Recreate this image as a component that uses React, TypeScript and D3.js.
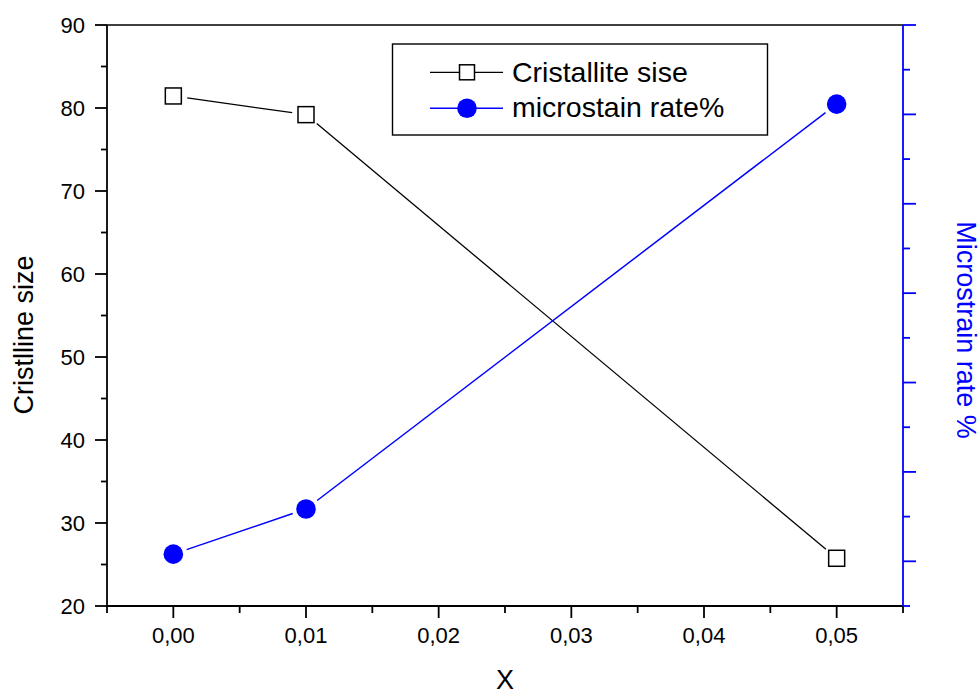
import React from "react";
import * as d3 from "d3";

const xValues = [0.0, 0.01, 0.05];
const crystalliteSize = [81.45, 79.2, 25.75];
const microstrainRate = [0.208, 0.2585, 0.7115];

const xMajorTicks = [0.0, 0.01, 0.02, 0.03, 0.04, 0.05];
const xMinorTicks = [-0.005, 0.005, 0.015, 0.025, 0.035, 0.045, 0.055];
const yLeftMajorTicks = [20, 30, 40, 50, 60, 70, 80, 90];
const yLeftMinorTicks = [25, 35, 45, 55, 65, 75, 85];
const yRightMajorTicks = [0.2, 0.3, 0.4, 0.5, 0.6, 0.7, 0.8];
const yRightMinorTicks = [0.15, 0.25, 0.35, 0.45, 0.55, 0.65, 0.75];

const legendLabels = ["Cristallite sise", "microstain rate%"];

const W = 980;
const H = 695;
const L = 107;
const R = 903;
const T = 25;
const B = 606;
const BLUE = "#0000ff";
const FONT = "'Liberation Sans', Arial, sans-serif";

function gappedSegments(pts: [number, number][], gap: number) {
  const segs: [number, number, number, number][] = [];
  for (let i = 0; i < pts.length - 1; i++) {
    const [x1, y1] = pts[i];
    const [x2, y2] = pts[i + 1];
    const dx = x2 - x1;
    const dy = y2 - y1;
    const len = Math.sqrt(dx * dx + dy * dy);
    const ux = dx / len;
    const uy = dy / len;
    segs.push([x1 + ux * gap, y1 + uy * gap, x2 - ux * gap, y2 - uy * gap]);
  }
  return segs;
}

export default function App() {
  const x = d3.scaleLinear().domain([-0.005, 0.055]).range([L, R]);
  const yL = d3.scaleLinear().domain([20, 90]).range([B, T]);
  const yR = d3.scaleLinear().domain([0.15, 0.8]).range([B, T]);
  const fmt = (v: number) => d3.format(".2f")(v).replace(".", ",");

  const blackPts: [number, number][] = xValues.map((v, i) => [x(v), yL(crystalliteSize[i])]);
  const bluePts: [number, number][] = xValues.map((v, i) => [x(v), yR(microstrainRate[i])]);

  const sq = 16;
  const rC = 9.8;

  return (
    <svg width={W} height={H} style={{ position: "absolute", left: 0, top: 0, background: "#fff" }} fontFamily={FONT}>
      <rect x={0} y={0} width={W} height={H} fill="#fff" />
      {/* top frame */}
      <line x1={L} y1={T} x2={R} y2={T} stroke="#000" strokeWidth={1.5} />

      {/* bottom axis */}
      <line x1={L} y1={B} x2={R} y2={B} stroke="#000" strokeWidth={1.8} />
      {xMajorTicks.map((t) => (
        <g key={"xm" + t}>
          <line x1={x(t)} y1={B} x2={x(t)} y2={B + 12} stroke="#000" strokeWidth={1.8} />
          <text x={x(t)} y={643} textAnchor="middle" fontSize={22} fill="#000">{fmt(t)}</text>
        </g>
      ))}
      {xMinorTicks.map((t) => (
        <line key={"xn" + t} x1={x(t)} y1={B} x2={x(t)} y2={B + 7} stroke="#000" strokeWidth={1.8} />
      ))}
      <text x={(L + R) / 2} y={689} textAnchor="middle" fontSize={27} fill="#000">X</text>

      {/* left axis */}
      <line x1={L} y1={T} x2={L} y2={B} stroke="#000" strokeWidth={1.8} />
      {yLeftMajorTicks.map((t) => (
        <g key={"ym" + t}>
          <line x1={L - 12} y1={yL(t)} x2={L} y2={yL(t)} stroke="#000" strokeWidth={1.8} />
          <text x={85} y={yL(t)} dy="0.36em" textAnchor="end" fontSize={22} fill="#000">{t}</text>
        </g>
      ))}
      {yLeftMinorTicks.map((t) => (
        <line key={"yn" + t} x1={L - 6} y1={yL(t)} x2={L} y2={yL(t)} stroke="#000" strokeWidth={1.8} />
      ))}
      <text transform={`translate(33,335) rotate(-90)`} textAnchor="middle" fontSize={27} fill="#000">Cristlline size</text>

      {/* right axis */}
      <line x1={R} y1={T} x2={R} y2={B} stroke={BLUE} strokeWidth={1.8} />
      {yRightMajorTicks.map((t) => (
        <line key={"rm" + t} x1={R} y1={yR(t)} x2={R + 13} y2={yR(t)} stroke={BLUE} strokeWidth={1.8} />
      ))}
      {yRightMinorTicks.map((t) => (
        <line key={"rn" + t} x1={R} y1={yR(t)} x2={R + 7} y2={yR(t)} stroke={BLUE} strokeWidth={1.8} />
      ))}
      <text transform={`translate(957,330) rotate(90)`} textAnchor="middle" fontSize={27} fill={BLUE}>Microstrain rate %</text>

      {/* black series */}
      {gappedSegments(blackPts, 14).map((s, i) => (
        <line key={"bs" + i} x1={s[0]} y1={s[1]} x2={s[2]} y2={s[3]} stroke="#000" strokeWidth={1.3} />
      ))}
      {blackPts.map((p, i) => (
        <rect key={"bp" + i} x={p[0] - sq / 2} y={p[1] - sq / 2} width={sq} height={sq} fill="#fff" stroke="#000" strokeWidth={1.5} />
      ))}

      {/* blue series */}
      {gappedSegments(bluePts, 14).map((s, i) => (
        <line key={"us" + i} x1={s[0]} y1={s[1]} x2={s[2]} y2={s[3]} stroke={BLUE} strokeWidth={1.5} />
      ))}
      {bluePts.map((p, i) => (
        <circle key={"up" + i} cx={p[0]} cy={p[1]} r={rC} fill={BLUE} />
      ))}

      {/* legend */}
      <rect x={392.5} y={44} width={375} height={91} fill="#fff" stroke="#000" strokeWidth={1.4} />
      <line x1={430} y1={72.3} x2={503} y2={72.3} stroke="#000" strokeWidth={1.3} />
      <rect x={467 - 7.5} y={72.3 - 7.5} width={15} height={15} fill="#fff" stroke="#000" strokeWidth={1.5} />
      <text x={512} y={81.7} fontSize={28.5} fill="#000">{legendLabels[0]}</text>
      <line x1={430} y1={108.3} x2={503} y2={108.3} stroke={BLUE} strokeWidth={1.5} />
      <circle cx={467} cy={108.3} r={rC} fill={BLUE} />
      <text x={512} y={117} fontSize={28.5} fill="#000">{legendLabels[1]}</text>
    </svg>
  );
}
